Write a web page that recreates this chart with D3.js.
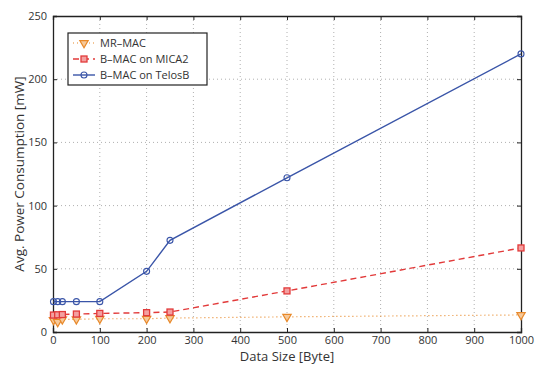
<!DOCTYPE html>
<html><head><meta charset="utf-8">
<script src="https://cdn.jsdelivr.net/npm/d3@7"></script>
<style>body{margin:0;background:#fff;} text{font-family:"Open Sans","Liberation Sans",sans-serif;}</style>
</head><body>
<svg id="c" width="539" height="365"></svg>
<script>
const dataSizes = [1, 10, 20, 50, 100, 200, 250, 500, 1000];
const mrMac = [9.5, 8, 10, 10, 10.5, 10.5, 11, 12, 13.5];
const bMacMica2 = [13.4, 13.6, 13.8, 14.2, 14.7, 15.3, 15.8, 32.5, 66.5];
const bMacTelosB = [24, 24, 24, 24, 24, 48, 72.5, 122, 220];
const xTicks = [0,100,200,300,400,500,600,700,800,900,1000];
const yTicks = [0,50,100,150,200,250];
const seriesNames = ["MR\u2013MAC", "B\u2013MAC on MICA2", "B\u2013MAC on TelosB"];

const svg = d3.select("#c");
const L=53, R=521, T=16, B=332;
const x = d3.scaleLinear().domain([0,1000]).range([L,R]);
const y = d3.scaleLinear().domain([0,250]).range([B,T]);

// grid
const g = svg.append("g");
g.selectAll(".gx").data(xTicks.slice(1,-1)).enter().append("line")
 .attr("x1",d=>x(d)).attr("x2",d=>x(d)).attr("y1",T).attr("y2",B)
 .attr("stroke","#b0b0b0").attr("stroke-width",1).attr("stroke-dasharray","1,3");
g.selectAll(".gy").data(yTicks.slice(1,-1)).enter().append("line")
 .attr("y1",d=>y(d)).attr("y2",d=>y(d)).attr("x1",L).attr("x2",R)
 .attr("stroke","#b0b0b0").attr("stroke-width",1).attr("stroke-dasharray","1,3");

// axes
const xa = svg.append("g").attr("transform",`translate(0,${B})`)
 .call(d3.axisBottom(x).tickValues(xTicks).tickSize(-4).tickPadding(4).tickFormat(d3.format("d")));
const xt = svg.append("g").attr("transform",`translate(0,${T})`)
 .call(d3.axisTop(x).tickValues(xTicks).tickSize(-4).tickFormat(""));
const ya = svg.append("g").attr("transform",`translate(${L},0)`)
 .call(d3.axisLeft(y).tickValues(yTicks).tickSize(-4).tickPadding(6).tickFormat(d3.format("d")));
const yr = svg.append("g").attr("transform",`translate(${R},0)`)
 .call(d3.axisRight(y).tickValues(yTicks).tickSize(-4).tickFormat(""));
[xa,xt,ya,yr].forEach(a=>{
  a.selectAll("path").attr("stroke","#222").attr("stroke-width",1.3);
  a.selectAll("line").attr("stroke","#222");
  a.selectAll("text").attr("fill","#333").style("font-size","11px");
});

// labels
svg.append("text").attr("x",(L+R)/2).attr("y",361).attr("text-anchor","middle")
 .style("font-size","13px").attr("fill","#333").text("Data Size [Byte]");
svg.append("text").attr("transform",`translate(24,${(T+B)/2}) rotate(-90)`).attr("text-anchor","middle")
 .style("font-size","13.5px").attr("fill","#333").text("Avg. Power Consumption [mW]");

const line = d3.line().x(d=>x(d[0])).y(d=>y(d[1]));
const cols = ["#e8892a","#e23a3a","#3a55a8"];
const dashes = ["1,3","6,4",null];
const all = [mrMac, bMacMica2, bMacTelosB];

function marker(sel, i, cx, cy){
  if(i===0){
    sel.append("path").attr("d",d3.symbol().type(d3.symbolTriangle).size(30)())
     .attr("transform",`translate(${cx},${cy}) rotate(180)`)
     .attr("fill","#f6c99a").attr("stroke",cols[0]).attr("stroke-width",1.2);
  } else if(i===1){
    sel.append("rect").attr("x",cx-3).attr("y",cy-3).attr("width",6).attr("height",6)
     .attr("fill","#f3a0a0").attr("stroke",cols[1]).attr("stroke-width",1.3);
  } else {
    sel.append("circle").attr("cx",cx).attr("cy",cy).attr("r",3)
     .attr("fill","none").attr("stroke",cols[2]).attr("stroke-width",1.1);
  }
}

all.forEach((vals,i)=>{
  const pts = dataSizes.map((s,k)=>[s,vals[k]]);
  const p = svg.append("path").datum(pts).attr("d",line).attr("fill","none")
   .attr("stroke",cols[i]).attr("stroke-width",i===0?1.2:1.4);
  if(dashes[i]) p.attr("stroke-dasharray",dashes[i]);
  const mg = svg.append("g");
  pts.forEach(pt=>marker(mg,i,x(pt[0]),y(pt[1])));
});

// legend
const lg = svg.append("g");
lg.append("rect").attr("x",68).attr("y",33).attr("width",139).attr("height",52)
 .attr("fill","#fff").attr("stroke","#222").attr("stroke-width",1.2);
seriesNames.forEach((n,i)=>{
  const yy = 43+i*16;
  const l = lg.append("line").attr("x1",73).attr("x2",95).attr("y1",yy).attr("y2",yy)
   .attr("stroke",cols[i]).attr("stroke-width",i===0?1.2:1.4);
  if(dashes[i]) l.attr("stroke-dasharray",dashes[i]);
  marker(lg,i,84,yy);
  lg.append("text").attr("x",100).attr("y",yy+4).style("font-size","11px").attr("fill","#333").text(n);
});
</script>
</body></html>
